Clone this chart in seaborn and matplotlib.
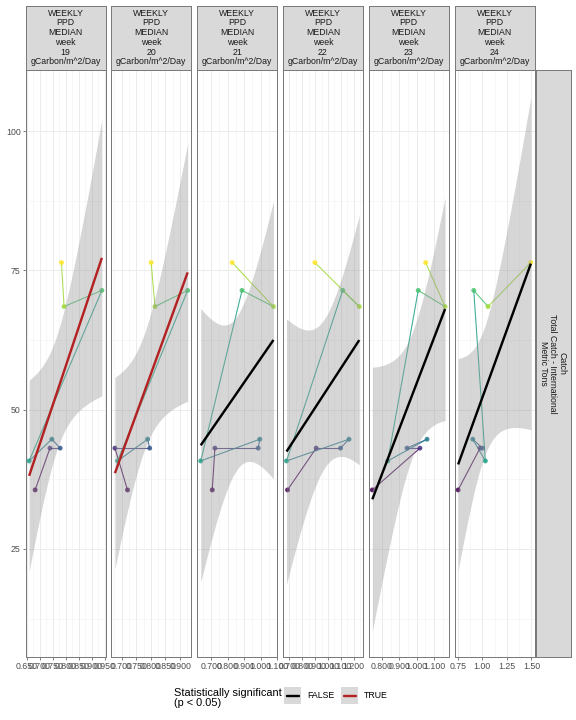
import numpy as np
import pandas as pd
import matplotlib
matplotlib.use("Agg")
import matplotlib.pyplot as plt
import seaborn as sns
from matplotlib.ticker import MultipleLocator, FormatStrFormatter
from matplotlib.patches import Rectangle
from matplotlib.lines import Line2D

# facet weeks (PPD weekly median, gCarbon/m^2/Day)
weeks = [19, 20, 21, 22, 23, 24]
# observation order (years, oldest first) - drives colour + path order
obs_order = [1, 2, 3, 4, 5, 6, 7, 8]
# total catch, metric tons (same for every facet)
catch = [35.6, 43.1, 43.1, 44.7, 40.8, 71.4, 68.5, 76.4]

# PPD median for each week, in obs_order
ppd_w19 = [0.683, 0.740, 0.779, 0.747, 0.660, 0.939, 0.794, 0.784]
ppd_w20 = [0.720, 0.677, 0.796, 0.789, 0.686, 0.926, 0.814, 0.801]
ppd_w21 = [0.706, 0.722, 0.985, 0.995, 0.636, 0.887, 1.078, 0.827]
ppd_w22 = [0.685, 0.908, 1.098, 1.164, 0.677, 1.115, 1.244, 0.898]
ppd_w23 = [0.744, 1.019, 0.944, 1.060, 0.833, 1.009, 1.164, 1.052]
ppd_w24 = [0.755, 0.978, 1.002, 0.904, 1.032, 0.914, 1.059, 1.495]
ppd_by_week = [ppd_w19, ppd_w20, ppd_w21, ppd_w22, ppd_w23, ppd_w24]

# lm slope significant (p < 0.05)?
significant = [True, True, False, False, False, False]

T_CRIT = 2.4469  # t(0.975, df = 6) for 8 points

W, H = 576, 720


def px_rect(x0, y0, x1, y1):
    return [x0 / W, 1 - y1 / H, (x1 - x0) / W, (y1 - y0) / H]


sns.set_theme(style="white")
plt.rcParams["font.family"] = ["Liberation Sans", "DejaVu Sans"]

fig = plt.figure(figsize=(8, 10), dpi=72)

cmap = plt.get_cmap("viridis")
norm = plt.Normalize(min(obs_order), max(obs_order))
seg_colors = [cmap(norm(o)) for o in obs_order]

tick_step = [0.05, 0.05, 0.1, 0.1, 0.1, 0.25]
tick_fmt = ["%.3f", "%.3f", "%.3f", "%.3f", "%.3f", "%.2f"]
border = "#7a7a7a"

panel_top, panel_bot = 70, 657
for i, wk in enumerate(weeks):
    left = 25.5 + i * 85.8
    ax = fig.add_axes(px_rect(left, panel_top, left + 80, panel_bot))
    ax.set_facecolor("white")
    x = np.array(ppd_by_week[i])
    y = np.array(catch)
    n = len(x)
    df = pd.DataFrame({"ppd": x, "catch": y, "obs": obs_order})

    # path through the years, each segment takes its start colour
    for j in range(n - 1):
        ax.plot(x[j:j + 2], y[j:j + 2], color=seg_colors[j], lw=1.1,
                alpha=0.85, zorder=2)
    sns.scatterplot(data=df, x="ppd", y="catch", hue="obs", palette="viridis",
                    hue_norm=(min(obs_order), max(obs_order)), s=24,
                    linewidth=0, alpha=0.85, legend=False, ax=ax, zorder=3)

    # linear fit with 95% confidence band
    b, a = np.polyfit(x, y, 1)
    xs = np.linspace(x.min(), x.max(), 80)
    fit = a + b * xs
    resid = y - (a + b * x)
    s = np.sqrt(np.sum(resid ** 2) / (n - 2))
    se = s * np.sqrt(1 / n + (xs - x.mean()) ** 2 / np.sum((x - x.mean()) ** 2))
    ax.fill_between(xs, fit - T_CRIT * se, fit + T_CRIT * se, color="#999999",
                    alpha=0.4, lw=0, zorder=4)
    ax.plot(xs, fit, color="#B22222" if significant[i] else "black", lw=2.4,
            zorder=5, solid_capstyle="butt")

    r = x.max() - x.min()
    ax.set_xlim(x.min() - 0.05 * r, x.max() + 0.05 * r)
    ax.set_ylim(5.62, 110.95)
    ax.xaxis.set_major_locator(MultipleLocator(tick_step[i]))
    ax.xaxis.set_minor_locator(MultipleLocator(tick_step[i] / 2))
    ax.xaxis.set_major_formatter(FormatStrFormatter(tick_fmt[i]))
    ax.yaxis.set_major_locator(MultipleLocator(25))
    ax.yaxis.set_minor_locator(MultipleLocator(12.5))
    ax.grid(which="major", color="#ebebeb", lw=1.0, zorder=0)
    ax.grid(which="minor", color="#f2f2f2", lw=0.6, zorder=0)
    ax.set_axisbelow(True)
    ax.set_xlabel("")
    ax.set_ylabel("")
    ax.tick_params(axis="x", which="major", bottom=True, length=2.75,
                   width=0.6, color="#333333", labelsize=8.8,
                   labelcolor="#4d4d4d", pad=2)
    ax.tick_params(which="minor", bottom=False, left=False)
    if i == 0:
        ax.tick_params(axis="y", which="major", left=True, length=2.75,
                       width=0.6, color="#333333", labelsize=8.8,
                       labelcolor="#4d4d4d", pad=2)
    else:
        ax.tick_params(axis="y", which="major", left=False, labelleft=False)
    for sp in ax.spines.values():
        sp.set_color(border)
        sp.set_linewidth(1.0)

    # facet strip on top
    st = fig.add_axes(px_rect(left, 5.5, left + 80, 69.5))
    st.set_facecolor("#d9d9d9")
    st.set_xticks([])
    st.set_yticks([])
    for sp in st.spines.values():
        sp.set_color(border)
        sp.set_linewidth(1.0)
    st.text(0.5, 0.5, f"WEEKLY\nPPD\nMEDIAN\nweek\n{wk}\ngCarbon/m^2/Day",
            ha="center", va="center", multialignment="center",
            fontsize=8.8, color="#1a1a1a", linespacing=1.10,
            transform=st.transAxes)

# right-hand strip
rs = fig.add_axes(px_rect(535.5, panel_top, 570.5, panel_bot))
rs.set_facecolor("#d9d9d9")
rs.set_xticks([])
rs.set_yticks([])
for sp in rs.spines.values():
    sp.set_color(border)
    sp.set_linewidth(1.0)
rs.text(0.5, 0.5, "Catch\nTotal Catch - International\nMetric Tons",
        ha="center", va="center", multialignment="center", rotation=-90,
        fontsize=8.8, color="#1a1a1a", linespacing=1.05,
        transform=rs.transAxes)

# legend
fig.text(174 / W, 1 - 698 / H, "Statistically significant\n(p < 0.05)",
         ha="left", va="center", fontsize=11, color="black", linespacing=1.0)
for kx, col, lab in [(284, "black", "FALSE"), (341, "#B22222", "TRUE")]:
    fig.add_artist(Rectangle((kx / W, 1 - 704 / H), 17 / W, 17 / H,
                             transform=fig.transFigure, facecolor="#d9d9d9",
                             edgecolor="none"))
    fig.add_artist(Line2D([(kx + 2.5) / W, (kx + 14.5) / W],
                          [1 - 695.5 / H, 1 - 695.5 / H],
                          transform=fig.transFigure, color=col, lw=2.4))
    fig.text((kx + 23) / W, 1 - 695.5 / H, lab, ha="left", va="center",
             fontsize=8.8, color="black")

fig.savefig("out.png", dpi=72, facecolor="white")
